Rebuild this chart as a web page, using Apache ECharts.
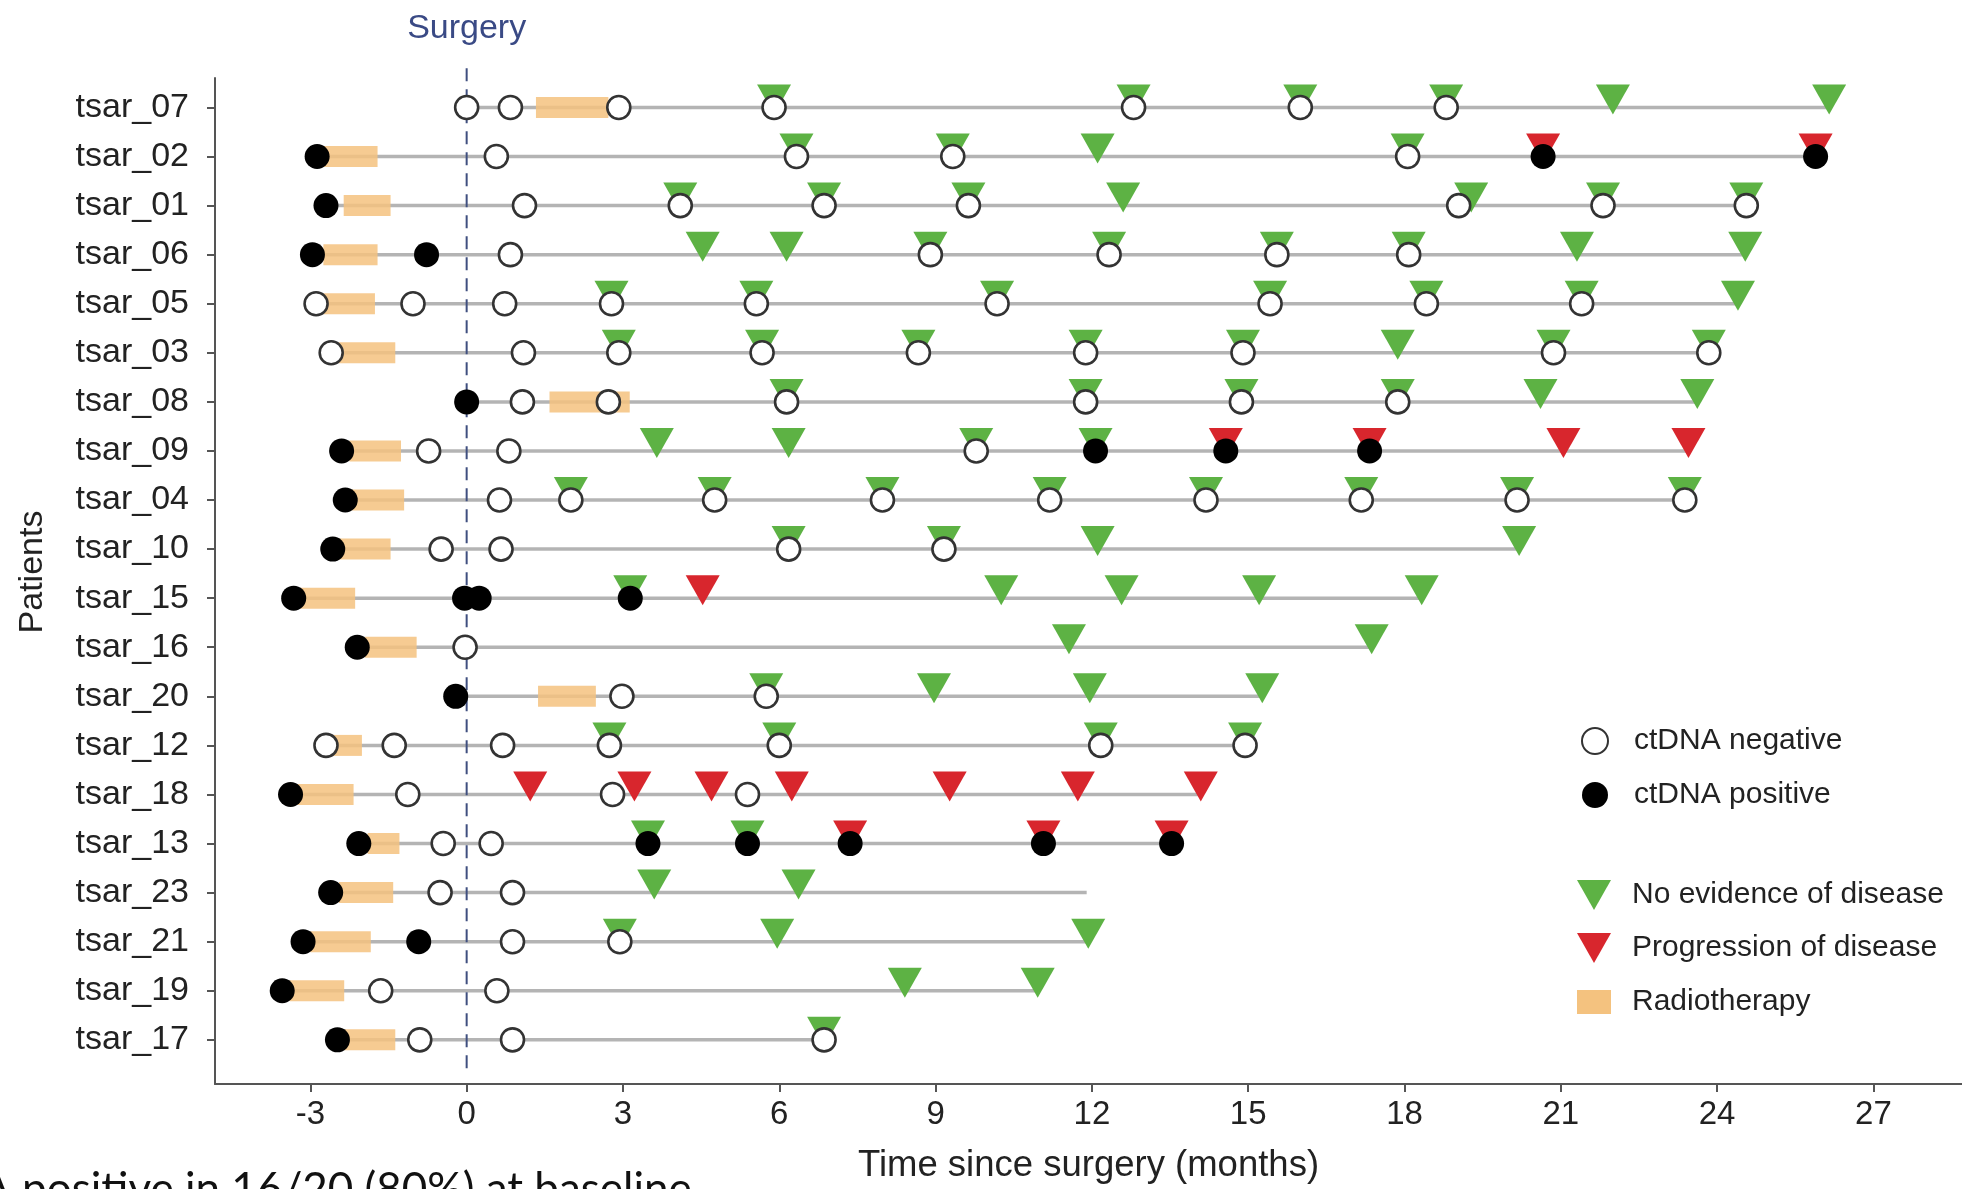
<!DOCTYPE html>
<html>
<head>
<meta charset="utf-8">
<script src="https://cdn.jsdelivr.net/npm/echarts@6/dist/echarts.min.js"></script>
<style>
  html, body { margin: 0; padding: 0; background: #fff; }
  #chart { width: 1962px; height: 1189px; }
</style>
</head>
<body>
<div id="chart"></div>
<script>
// ---------------- DATA ----------------
const patients = ['tsar_07','tsar_02','tsar_01','tsar_06','tsar_05','tsar_03','tsar_08','tsar_09','tsar_04','tsar_10',
                  'tsar_15','tsar_16','tsar_20','tsar_12','tsar_18','tsar_13','tsar_23','tsar_21','tsar_19','tsar_17'];

const xTicks = [-3, 0, 3, 6, 9, 12, 15, 18, 21, 24, 27];

// follow-up span (months since surgery)
const followStart = [0.0, -2.87, -2.70, -2.96, -2.89, -2.60, 0.0, -2.40, -2.33, -2.57,
                     -3.32, -2.10, -0.21, -2.70, -3.38, -2.07, -2.61, -3.14, -3.54, -2.48];
const followEnd   = [26.15, 25.89, 24.56, 24.54, 24.40, 23.84, 23.62, 23.45, 23.38, 20.20,
                     18.33, 17.37, 15.27, 14.94, 14.09, 13.53, 11.90, 11.93, 10.96, 6.86];

// radiotherapy period
const rtStart = [1.33, -2.75, -2.36, -2.75, -2.75, -2.45, 1.59, -2.25, -2.20, -2.45,
                 -3.20, -1.95, 1.37, -2.60, -3.25, -1.90, -2.45, -3.00, -3.40, -2.35];
const rtEnd   = [2.72, -1.71, -1.46, -1.71, -1.76, -1.37, 3.13, -1.26, -1.20, -1.46,
                 -2.14, -0.96, 2.48, -2.01, -2.17, -1.29, -1.41, -1.84, -2.35, -1.37];

// ctDNA negative samples
const ctdnaNegative = [
  [0.0, 0.84, 2.92, 5.9, 12.8, 16.0, 18.8],
  [0.57, 6.33, 9.33, 18.06],
  [1.11, 4.10, 6.86, 9.63, 19.04, 21.81, 24.56],
  [0.84, 8.90, 12.33, 15.55, 18.08],
  [-2.89, -1.03, 0.73, 2.78, 5.56, 10.18, 15.42, 18.42, 21.40],
  [-2.60, 1.09, 2.92, 5.67, 8.67, 11.88, 14.90, 20.86, 23.84],
  [1.07, 2.72, 6.14, 11.88, 14.87, 17.87],
  [-0.73, 0.81, 9.78],
  [0.63, 2.00, 4.76, 7.98, 11.19, 14.19, 17.17, 20.16, 23.38],
  [-0.49, 0.66, 6.18, 9.16],
  [],
  [-0.03],
  [2.98, 5.75],
  [-2.70, -1.39, 0.69, 2.74, 6.00, 12.17, 14.94],
  [-1.13, 2.80, 5.39],
  [-0.45, 0.47],
  [-0.51, 0.88],
  [0.88, 2.94],
  [-1.65, 0.58],
  [-0.90, 0.88, 6.86]
];

// ctDNA positive samples
const ctdnaPositive = [
  [],
  [-2.87, 20.66, 25.89],
  [-2.70],
  [-2.96, -0.77],
  [],
  [],
  [0.0],
  [-2.40, 12.07, 14.57, 17.33],
  [-2.33],
  [-2.57],
  [-3.32, -0.04, 0.24, 3.14],
  [-2.10],
  [-0.21],
  [],
  [-3.38],
  [-2.07, 3.48, 5.39, 7.36, 11.07, 13.53],
  [-2.61],
  [-3.14, -0.92],
  [-3.54],
  [-2.48]
];

// No evidence of disease assessments
const noEvidence = [
  [5.9, 12.8, 16.0, 18.8, 22.0, 26.15],
  [6.33, 9.33, 12.11, 18.06],
  [4.10, 6.86, 9.63, 12.60, 19.28, 21.81, 24.56],
  [4.53, 6.14, 8.90, 12.33, 15.55, 18.08, 21.31, 24.54],
  [2.78, 5.56, 10.18, 15.42, 18.42, 21.40, 24.40],
  [2.92, 5.67, 8.67, 11.88, 14.90, 17.87, 20.86, 23.84],
  [6.14, 11.88, 14.87, 17.87, 20.61, 23.62],
  [3.65, 6.18, 9.78, 12.07],
  [2.00, 4.76, 7.98, 11.19, 14.19, 17.17, 20.16, 23.38],
  [6.18, 9.16, 12.11, 20.20],
  [3.14, 10.26, 12.57, 15.21, 18.33],
  [11.56, 17.37],
  [5.75, 8.97, 11.96, 15.27],
  [2.74, 6.00, 12.17, 14.94],
  [],
  [3.48, 5.39],
  [3.60, 6.37],
  [2.94, 5.96, 11.93],
  [8.41, 10.96],
  [6.86]
];

// Progression of disease assessments
const progression = [
  [], [20.66, 25.89], [], [], [], [], [], [14.57, 17.33, 21.05, 23.45], [], [],
  [4.53], [], [], [], [1.22, 3.22, 4.70, 6.24, 9.27, 11.73, 14.09], [7.36, 11.07, 13.53], [], [], [], []
];

// ---------------- BUILD ----------------
const toPoints = arr => arr.flatMap((row, i) => row.map(v => [v, i]));
const patientIdx = patients.map((_, i) => i);
const followData = patients.map((_, i) => [followStart[i], followEnd[i], i]);
const rtData = patients.map((_, i) => [rtStart[i], rtEnd[i], i]);

const FONT = "'Liberation Sans', Arial, Helvetica, sans-serif";
const GREEN = '#5db244';
const RED = '#d8262d';
const ORANGE = '#f4c27f';
const TRI = 'path://M0,0 L34,0 L17,30 Z';

const chart = echarts.init(document.getElementById('chart'), null, { renderer: 'canvas' });

const option = {
  animation: false,
  backgroundColor: '#ffffff',
  textStyle: { fontFamily: FONT },
  grid: { left: 215, right: 0, top: 78, bottom: 104, containLabel: false },
  xAxis: {
    type: 'value', min: -4.83, max: 28.7,
    name: 'Time since surgery (months)', nameLocation: 'middle', nameGap: 63,
    nameTextStyle: { fontSize: 36.5, color: '#222', fontFamily: FONT },
    axisLine: { onZero: false, lineStyle: { color: '#555', width: 2 } },
    axisTick: { show: true, length: 8, customValues: xTicks, lineStyle: { color: '#555', width: 2 } },
    axisLabel: { customValues: xTicks, fontSize: 33, color: '#222', margin: 14, fontFamily: FONT },
    splitLine: { show: false }
  },
  yAxis: {
    type: 'value', inverse: true, min: -0.6, max: 19.9,
    name: 'Patients', nameLocation: 'middle', nameGap: 165, nameRotate: 90,
    nameTextStyle: { fontSize: 34, color: '#222', fontFamily: FONT, padding: [0, 0, 0, 18] },
    axisLine: { show: true, onZero: false, lineStyle: { color: '#555', width: 2 } },
    axisTick: { show: true, length: 8, customValues: patientIdx, lineStyle: { color: '#555', width: 2 } },
    axisLabel: { customValues: patientIdx, fontSize: 34, color: '#222', margin: 26, fontFamily: FONT,
                 formatter: v => patients[Math.round(v)] },
    splitLine: { show: false }
  },
  legend: [
    {
      orient: 'vertical', left: 1576, top: 721, itemWidth: 26, itemHeight: 26, itemGap: 24,
      selectedMode: false,
      textStyle: { fontSize: 30, lineHeight: 26, color: '#222', fontFamily: FONT, padding: [0, 0, 0, 21] },
      data: [{ name: 'ctDNA negative', icon: 'circle' }, { name: 'ctDNA positive', icon: 'circle' }]
    },
    {
      orient: 'vertical', left: 1572, top: 875, itemWidth: 34, itemHeight: 30, itemGap: 23,
      selectedMode: false,
      textStyle: { fontSize: 30, lineHeight: 30, color: '#222', fontFamily: FONT, padding: [0, 0, 0, 16] },
      data: [{ name: 'No evidence of disease', icon: TRI }, { name: 'Progression of disease', icon: TRI }]
    },
    {
      orient: 'vertical', left: 1572, top: 982, itemWidth: 34, itemHeight: 24,
      selectedMode: false,
      textStyle: { fontSize: 30, lineHeight: 24, color: '#222', fontFamily: FONT, padding: [0, 0, 0, 16] },
      data: [{ name: 'Radiotherapy', icon: 'rect' }]
    }
  ],
  graphic: [
    {
      type: 'text', left: -19, top: 1168, silent: true,
      style: { text: 'A positive in 16/20 (80%) at baseline', fontSize: 44, fontFamily: 'Lato', fill: '#111' }
    }
  ],
  series: [
    {
      name: 'Follow-up', type: 'custom', z: 1, data: followData,
      encode: { x: [0, 1], y: 2 },
      renderItem: (params, api) => {
        const p1 = api.coord([api.value(0), api.value(2)]);
        const p2 = api.coord([api.value(1), api.value(2)]);
        return { type: 'line', shape: { x1: p1[0], y1: p1[1], x2: p2[0], y2: p2[1] },
                 style: { stroke: '#b4b4b4', lineWidth: 3.5 } };
      }
    },
    {
      name: 'Radiotherapy', type: 'custom', z: 2, data: rtData,
      itemStyle: { color: ORANGE },
      encode: { x: [0, 1], y: 2 },
      renderItem: (params, api) => {
        const p1 = api.coord([api.value(0), api.value(2)]);
        const p2 = api.coord([api.value(1), api.value(2)]);
        const h = 21;
        return { type: 'rect', shape: { x: p1[0], y: p1[1] - h / 2, width: p2[0] - p1[0], height: h },
                 style: { fill: ORANGE, opacity: 0.85 } };
      }
    },
    {
      name: 'Surgery', type: 'custom', z: 3, data: [[0]],
      encode: { x: 0 },
      renderItem: (params, api) => {
        const top = api.coord([api.value(0), -0.8]);
        const bot = api.coord([api.value(0), 19.6]);
        return {
          type: 'group',
          children: [
            { type: 'line', shape: { x1: top[0], y1: top[1], x2: bot[0], y2: bot[1] },
              style: { stroke: '#3f4f7f', lineWidth: 2, lineDash: [13, 8] } },
            { type: 'text', x: top[0], y: top[1] - 40,
              style: { text: 'Surgery', fontSize: 34, fontFamily: FONT, fill: '#3a4a85', align: 'center', verticalAlign: 'middle' } }
          ]
        };
      }
    },
    {
      name: 'No evidence of disease', type: 'scatter', z: 4, data: toPoints(noEvidence),
      symbol: TRI, symbolSize: [34, 30], symbolOffset: [0, -8],
      itemStyle: { color: GREEN, opacity: 1 }
    },
    {
      name: 'Progression of disease', type: 'scatter', z: 4, data: toPoints(progression),
      symbol: TRI, symbolSize: [34, 30], symbolOffset: [0, -8],
      itemStyle: { color: RED, opacity: 1 }
    },
    {
      name: 'ctDNA negative', type: 'scatter', z: 5, data: toPoints(ctdnaNegative),
      symbol: 'circle', symbolSize: 23,
      itemStyle: { color: '#ffffff', borderColor: '#333333', borderWidth: 2.6, opacity: 1 }
    },
    {
      name: 'ctDNA positive', type: 'scatter', z: 5, data: toPoints(ctdnaPositive),
      symbol: 'circle', symbolSize: 25,
      itemStyle: { color: '#000000', opacity: 1 }
    }
  ]
};

chart.setOption(option);
</script>
</body>
</html>
